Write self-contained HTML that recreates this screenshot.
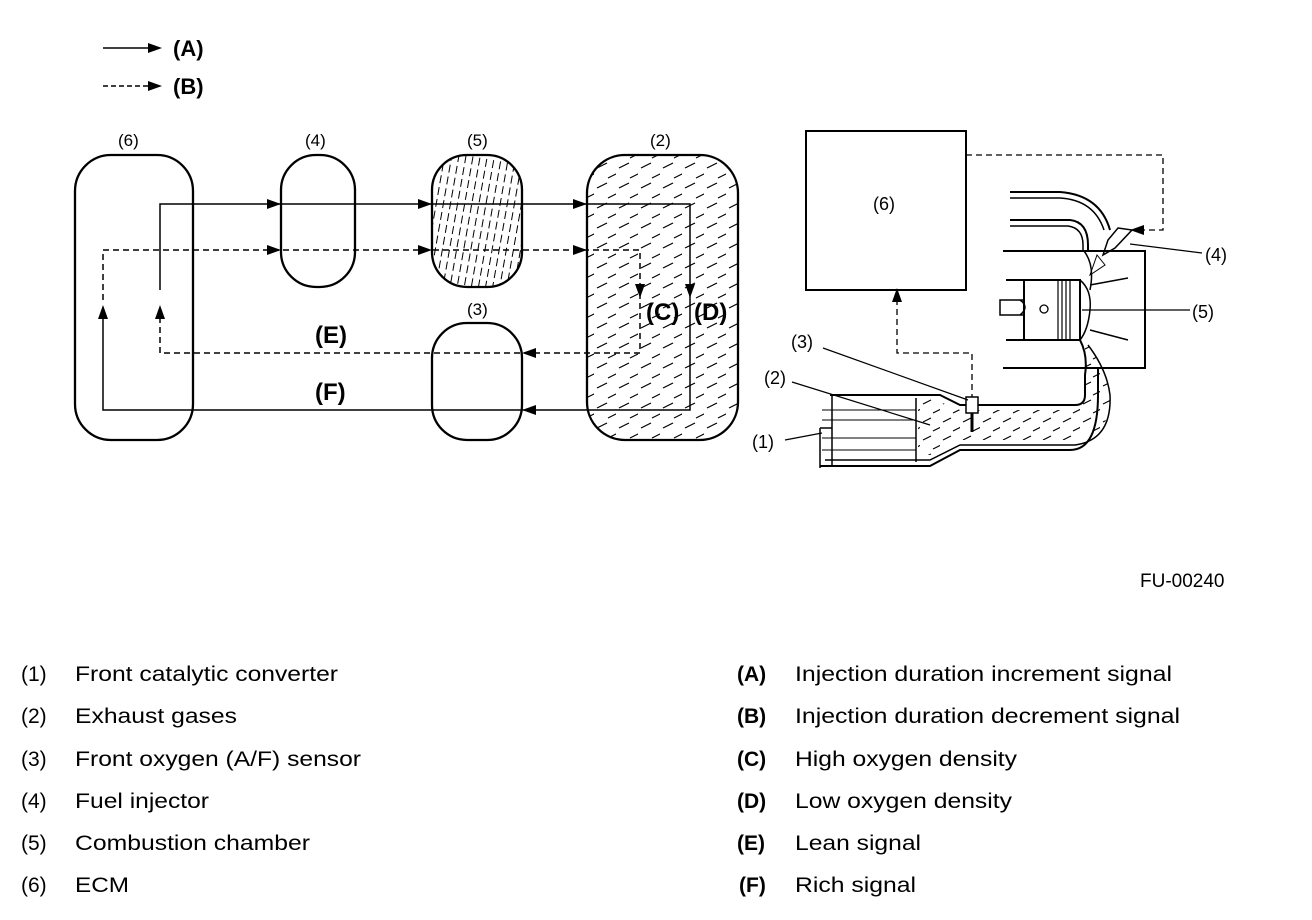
<!DOCTYPE html>
<html><head><meta charset="utf-8"><style>
html,body{margin:0;padding:0;background:#fff}
svg{display:block}
text{font-family:"Liberation Sans",Arial,sans-serif;fill:#000}
.lg{font-size:21px}
.b{font-weight:bold}
</style></head><body>
<svg width="1312" height="920" viewBox="0 0 1312 920" xmlns="http://www.w3.org/2000/svg">
<defs>
<pattern id="p5" width="7" height="12" patternUnits="userSpaceOnUse" patternTransform="rotate(10)">
<line x1="3" y1="0" x2="3" y2="8" stroke="#000" stroke-width="1"/>
</pattern>
<pattern id="p2" width="22" height="20" patternUnits="userSpaceOnUse">
<line x1="3" y1="8" x2="13" y2="3" stroke="#000" stroke-width="1.2"/>
<line x1="14" y1="18" x2="24" y2="13" stroke="#000" stroke-width="1.2"/>
</pattern>
<pattern id="pe" width="20" height="18" patternUnits="userSpaceOnUse">
<line x1="3" y1="8" x2="11" y2="4" stroke="#000" stroke-width="1.1"/>
<line x1="13" y1="17" x2="21" y2="13" stroke="#000" stroke-width="1.1"/>
</pattern>
</defs>

<line x1="103" y1="48" x2="150" y2="48" stroke="#000" stroke-width="1.5"/>
<polygon points="162,48 148,43 148,53" fill="#000"/>
<text x="173" y="56" font-size="22" class="b">(A)</text>
<line x1="103" y1="86" x2="150" y2="86" stroke="#000" stroke-width="1.5" stroke-dasharray="5,3"/>
<polygon points="162,86 148,81 148,91" fill="#000"/>
<text x="173" y="94" font-size="22" class="b">(B)</text>

<g font-size="17">
<text x="118" y="146">(6)</text>
<text x="305" y="146">(4)</text>
<text x="467" y="146">(5)</text>
<text x="650" y="146">(2)</text>
<text x="467" y="315">(3)</text>
</g>
<rect x="75" y="155" width="118" height="285" rx="36" fill="none" stroke="#000" stroke-width="2.3"/>
<rect x="281" y="155" width="74" height="132" rx="35" fill="none" stroke="#000" stroke-width="2.3"/>
<rect x="432" y="155" width="90" height="132" rx="35" fill="url(#p5)" stroke="#000" stroke-width="2.3"/>
<rect x="432" y="323" width="90" height="117" rx="35" fill="none" stroke="#000" stroke-width="2.3"/>
<rect x="587" y="155" width="151" height="285" rx="38" fill="url(#p2)" stroke="#000" stroke-width="2.3"/>

<path d="M160,290 V204 H690 V410 H103 V318" fill="none" stroke="#000" stroke-width="1.5"/>
<path d="M103,300 V250 H640 V353 H160 V318" fill="none" stroke="#000" stroke-width="1.5" stroke-dasharray="6,4"/>
<g fill="#000">
<polygon points="281,204 267,199 267,209"/>
<polygon points="432,204 418,199 418,209"/>
<polygon points="587,204 573,199 573,209"/>
<polygon points="281,250 267,245 267,255"/>
<polygon points="432,250 418,245 418,255"/>
<polygon points="587,250 573,245 573,255"/>
<polygon points="690,298 685,284 695,284"/>
<polygon points="640,298 635,284 645,284"/>
<polygon points="522,353 536,348 536,358"/>
<polygon points="522,410 536,405 536,415"/>
<polygon points="160,305 155,319 165,319"/>
<polygon points="103,305 98,319 108,319"/>
</g>
<g font-size="24" class="b">
<text x="646" y="320">(C)</text>
<text x="694" y="320">(D)</text>
<text x="315" y="343">(E)</text>
<text x="315" y="400">(F)</text>
</g>

<rect x="806" y="131" width="160" height="159" fill="none" stroke="#000" stroke-width="2"/>
<text x="873" y="210" font-size="18">(6)</text>
<path d="M966,155 H1163 V230 H1143" fill="none" stroke="#000" stroke-width="1.3" stroke-dasharray="6,4"/>
<polygon points="1130,230 1144,225 1144,235" fill="#000"/>
<path d="M972,400 V353 H897 V300" fill="none" stroke="#000" stroke-width="1.3" stroke-dasharray="6,4"/>
<polygon points="897,288 892,302 902,302" fill="#000"/>

<path d="M1085,340 Q1107,370 1110,395 Q1112,435 1075,440 L960,440 L930,455 L918,455 L918,398 L930,398 L960,410 L1072,410 Q1085,405 1085,390 Z" fill="url(#pe)"/>
<path d="M1010,192 H1060 Q1100,195 1110,230" fill="none" stroke="#000" stroke-width="2"/>
<path d="M1010,198 H1060 Q1094,200 1104,230" fill="none" stroke="#000" stroke-width="1.5"/>
<path d="M1010,220 H1070 Q1088,222 1088,245 V251" fill="none" stroke="#000" stroke-width="2"/>
<path d="M1010,226 H1068 Q1083,228 1083,245 V251" fill="none" stroke="#000" stroke-width="1.5"/>
<path d="M1118,228 L1132,230 L1115,248 L1103,255 L1108,240 Z" fill="#fff" stroke="#000" stroke-width="1.5"/>
<path d="M1097,255 L1090,275 L1105,265 Z" fill="none" stroke="#000" stroke-width="1"/>
<line x1="1130" y1="244" x2="1202" y2="253" stroke="#000" stroke-width="1.2"/>
<text x="1205" y="261" font-size="18">(4)</text>
<path d="M1003,251 H1145 V368 H1003" fill="none" stroke="#000" stroke-width="2"/>
<line x1="1006" y1="280" x2="1024" y2="280" stroke="#000" stroke-width="2"/>
<line x1="1006" y1="340" x2="1024" y2="340" stroke="#000" stroke-width="2"/>
<rect x="1024" y="280" width="56" height="60" fill="#fff" stroke="#000" stroke-width="2"/>
<g stroke="#000" stroke-width="1.2"><line x1="1058" y1="280" x2="1058" y2="340"/><line x1="1062" y1="280" x2="1062" y2="340"/><line x1="1066" y1="280" x2="1066" y2="340"/><line x1="1070" y1="280" x2="1070" y2="340"/></g>
<circle cx="1044" cy="309" r="4" fill="none" stroke="#000" stroke-width="1.3"/>
<path d="M1024,300 H1000 V315 H1024 M1020,300 Q1030,307 1020,315" fill="none" stroke="#000" stroke-width="1.5"/>
<path d="M1080,280 Q1092,290 1090,310 Q1088,330 1080,340" fill="none" stroke="#000" stroke-width="1.5"/>
<path d="M1084,251 Q1095,265 1090,290 M1090,285 L1128,278 M1090,330 L1128,340" fill="none" stroke="#000" stroke-width="1.5"/>
<line x1="1082" y1="310" x2="1190" y2="310" stroke="#000" stroke-width="1.2"/>
<text x="1192" y="318" font-size="18">(5)</text>
<path d="M1080,340 Q1088,355 1085,375 V395 Q1085,405 1075,405 H980 L960,405 L940,395 H830" fill="none" stroke="#000" stroke-width="2"/>
<path d="M1088,345 Q1107,370 1110,395 Q1112,440 1075,445 L960,445 L930,460 H825" fill="none" stroke="#000" stroke-width="1.5"/>
<path d="M1098,368 V395 Q1098,450 1070,450 L960,450 L930,466 H820" fill="none" stroke="#000" stroke-width="2"/>
<path d="M832,395 V465 M916,398 V462" fill="none" stroke="#000" stroke-width="1.5"/>
<g stroke="#000" stroke-width="1"><line x1="822" y1="410" x2="916" y2="410"/><line x1="822" y1="420" x2="916" y2="420"/><line x1="822" y1="438" x2="916" y2="438"/><line x1="822" y1="450" x2="916" y2="450"/></g>
<path d="M820,428 H832 M820,428 V468" fill="none" stroke="#000" stroke-width="1.5"/>
<rect x="966" y="397" width="12" height="16" fill="#fff" stroke="#000" stroke-width="1.5"/>
<line x1="972" y1="413" x2="972" y2="432" stroke="#000" stroke-width="3"/>
<line x1="823" y1="348" x2="968" y2="400" stroke="#000" stroke-width="1.2"/>
<line x1="792" y1="382" x2="930" y2="425" stroke="#000" stroke-width="1.2"/>
<line x1="785" y1="440" x2="822" y2="433" stroke="#000" stroke-width="1.2"/>
<g font-size="18">
<text x="791" y="348">(3)</text>
<text x="764" y="384">(2)</text>
<text x="752" y="448">(1)</text>
</g>
<text x="1140" y="587" font-size="19">FU-00240</text>

<g class="lg">
<text x="21" y="681">(1)</text><text x="75" y="681" textLength="263" lengthAdjust="spacingAndGlyphs">Front catalytic converter</text>
<text x="21" y="723">(2)</text><text x="75" y="723" textLength="162" lengthAdjust="spacingAndGlyphs">Exhaust gases</text>
<text x="21" y="766">(3)</text><text x="75" y="766" textLength="286" lengthAdjust="spacingAndGlyphs">Front oxygen (A/F) sensor</text>
<text x="21" y="808">(4)</text><text x="75" y="808" textLength="134" lengthAdjust="spacingAndGlyphs">Fuel injector</text>
<text x="21" y="850">(5)</text><text x="75" y="850" textLength="235" lengthAdjust="spacingAndGlyphs">Combustion chamber</text>
<text x="21" y="892">(6)</text><text x="75" y="892" textLength="54" lengthAdjust="spacingAndGlyphs">ECM</text>
<text x="737" y="681" class="b">(A)</text><text x="795" y="681" textLength="377" lengthAdjust="spacingAndGlyphs">Injection duration increment signal</text>
<text x="737" y="723" class="b">(B)</text><text x="795" y="723" textLength="385" lengthAdjust="spacingAndGlyphs">Injection duration decrement signal</text>
<text x="737" y="766" class="b">(C)</text><text x="795" y="766" textLength="222" lengthAdjust="spacingAndGlyphs">High oxygen density</text>
<text x="737" y="808" class="b">(D)</text><text x="795" y="808" textLength="217" lengthAdjust="spacingAndGlyphs">Low oxygen density</text>
<text x="737" y="850" class="b">(E)</text><text x="795" y="850" textLength="126" lengthAdjust="spacingAndGlyphs">Lean signal</text>
<text x="739" y="892" class="b">(F)</text><text x="795" y="892" textLength="121" lengthAdjust="spacingAndGlyphs">Rich signal</text>
</g>
</svg>
</body></html>
